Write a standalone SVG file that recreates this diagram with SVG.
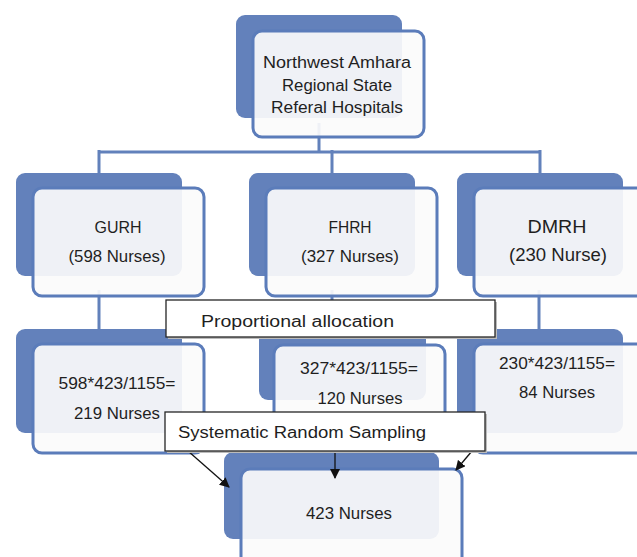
<svg xmlns="http://www.w3.org/2000/svg" width="637" height="557" viewBox="0 0 637 557">
<style>
.back{fill:#6381bb}
.front{fill:#fbfbfb;fill-opacity:0.92;stroke:#5b7cba;stroke-width:3}
.conn{stroke:#6281bb;stroke-width:3;fill:none}
.t{font-family:"Liberation Sans",Arial,sans-serif;font-size:16px;fill:#1f1f1f;text-anchor:middle}
.big{font-size:18px}
.lbl{fill:#fff;stroke:#262626;stroke-width:1.3}
.lt{font-family:"Liberation Sans",Arial,sans-serif;font-size:16px;fill:#1f1f1f}
.arr{stroke:#111;stroke-width:1.3;fill:none;marker-end:url(#ah)}
</style>
<defs>
<marker id="ah" markerWidth="10" markerHeight="10" refX="9" refY="5" orient="auto" markerUnits="userSpaceOnUse">
<path d="M0,0 L10,5 L0,10 z" fill="#111"/>
</marker>
</defs>
<rect width="637" height="557" fill="#fff"/>
<g id="connectors">
<path class="conn" d="M319,123 V152 M98,152 H540 M99,150 V190 M332,150 V190 M540,150 V190"/>
<path class="conn" d="M99,290 V332 M332,290 V345 M539,290 V332"/>
</g>
<g id="top">
<rect class="back" x="236" y="15" width="166" height="103" rx="9"/>
<rect class="front" x="253" y="31" width="171" height="106" rx="9"/>
<text class="t" x="337" y="68" textLength="148" lengthAdjust="spacingAndGlyphs">Northwest Amhara</text>
<text class="t" x="337" y="91" textLength="110" lengthAdjust="spacingAndGlyphs">Regional State</text>
<text class="t" x="337" y="113" textLength="132" lengthAdjust="spacingAndGlyphs">Referal Hospitals</text>
</g>
<g id="gurh">
<rect class="back" x="16" y="173" width="166" height="103" rx="9"/>
<rect class="front" x="33" y="188" width="171" height="108" rx="9"/>
<text class="t" x="118" y="233" textLength="47" lengthAdjust="spacingAndGlyphs">GURH</text>
<text class="t" x="117" y="262" textLength="97" lengthAdjust="spacingAndGlyphs">(598 Nurses)</text>
</g>
<g id="fhrh">
<rect class="back" x="249" y="173" width="166" height="103" rx="9"/>
<rect class="front" x="266" y="188" width="171" height="108" rx="9"/>
<text class="t" x="350" y="233" textLength="43" lengthAdjust="spacingAndGlyphs">FHRH</text>
<text class="t" x="350" y="262" textLength="98" lengthAdjust="spacingAndGlyphs">(327 Nurses)</text>
</g>
<g id="dmrh">
<rect class="back" x="457" y="173" width="166" height="103" rx="9"/>
<rect class="front" x="474" y="188" width="171" height="108" rx="9"/>
<text class="t big" x="557" y="233" textLength="59" lengthAdjust="spacingAndGlyphs">DMRH</text>
<text class="t big" x="558" y="261" textLength="98" lengthAdjust="spacingAndGlyphs">(230 Nurse)</text>
</g>
<g id="n598">
<rect class="back" x="16" y="329" width="166" height="104" rx="9"/>
<rect class="front" x="33" y="344" width="171" height="109" rx="9"/>
<text class="t" x="117" y="389" textLength="117" lengthAdjust="spacingAndGlyphs">598*423/1155=</text>
<text class="t" x="117" y="419" textLength="86" lengthAdjust="spacingAndGlyphs">219 Nurses</text>
</g>
<g id="n327">
<rect class="back" x="259" y="329" width="167" height="71" rx="9"/>
<rect class="front" x="274" y="345" width="171" height="78" rx="9"/>
<text class="t" x="359" y="374" textLength="118" lengthAdjust="spacingAndGlyphs">327*423/1155=</text>
<text class="t" x="360" y="404" textLength="85" lengthAdjust="spacingAndGlyphs">120 Nurses</text>
</g>
<g id="n230">
<rect class="back" x="457" y="329" width="166" height="104" rx="9"/>
<rect class="front" x="474" y="344" width="171" height="109" rx="9"/>
<text class="t" x="557" y="369" textLength="116" lengthAdjust="spacingAndGlyphs">230*423/1155=</text>
<text class="t" x="557" y="398" textLength="76" lengthAdjust="spacingAndGlyphs">84 Nurses</text>
</g>
<g id="prop">
<rect x="168" y="302" width="329" height="37" fill="#bbb"/>
<rect class="lbl" x="166" y="300" width="329" height="37"/>
<text class="lt" x="201" y="327" textLength="193" lengthAdjust="spacingAndGlyphs">Proportional  allocation</text>
</g>
<g id="n423">
<rect class="back" x="224" y="452" width="215" height="87" rx="9"/>
<rect class="front" x="241" y="469" width="221" height="100" rx="9"/>
<text class="t" x="349" y="519" textLength="86" lengthAdjust="spacingAndGlyphs">423 Nurses</text>
</g>
<g id="arrows">
<path class="arr" d="M188,451 L229,487"/>
<path class="arr" d="M335,451 V478"/>
<path class="arr" d="M472,451 L456,470"/>
</g>
<g id="sys">
<rect x="167" y="414" width="320" height="39" fill="#bbb"/>
<rect class="lbl" x="165" y="412" width="320" height="39"/>
<text class="lt" x="178" y="438" textLength="248" lengthAdjust="spacingAndGlyphs">Systematic Random Sampling</text>
</g>
</svg>
